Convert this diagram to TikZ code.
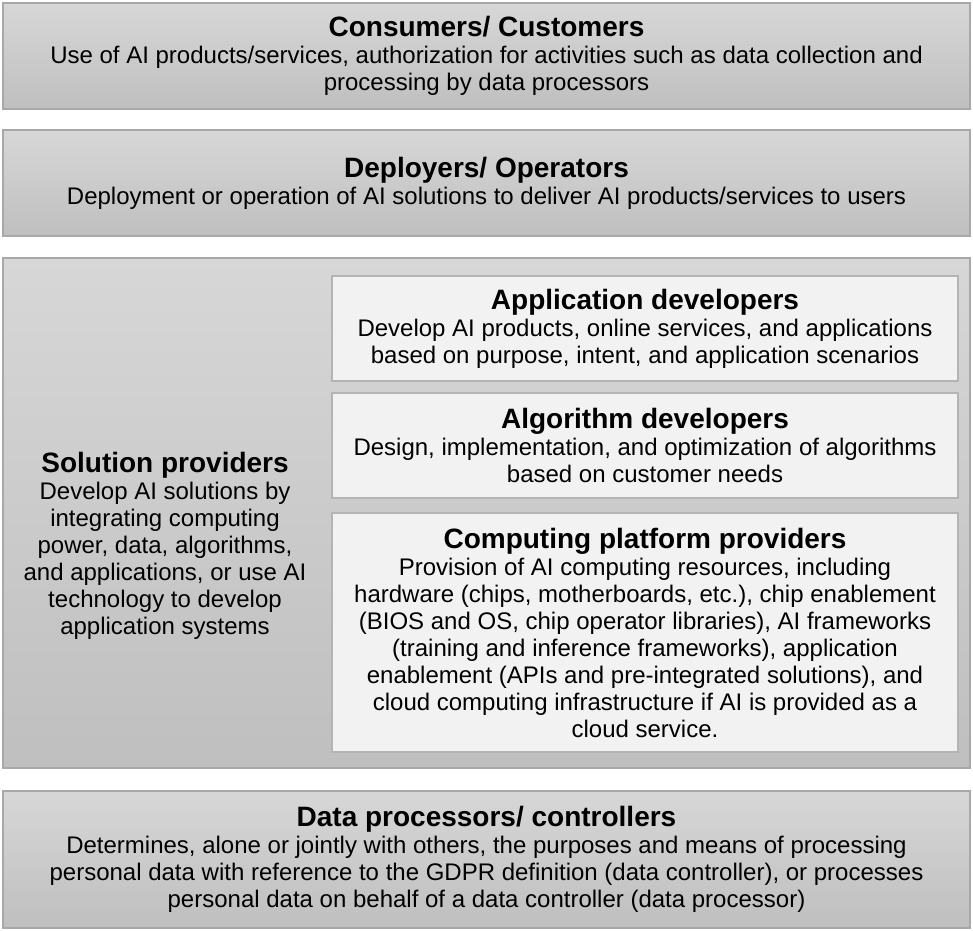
\documentclass[tikz,border=0pt]{standalone}
\usepackage{fontspec}
\setmainfont{Liberation Sans}
\usepackage{tikz}

\definecolor{boxtop}{HTML}{D7D7D7}
\definecolor{boxbottom}{HTML}{BFBFBF}
\definecolor{boxline}{HTML}{A8A8A8}
\definecolor{subfill}{HTML}{F2F2F2}
\definecolor{subline}{HTML}{B4B4B4}

\newcommand{\roletitle}[1]{{\fontsize{28}{27}\selectfont\bfseries #1}}

\begin{document}
\begin{tikzpicture}[x=1pt,y=-1pt,
    layer/.style={draw=boxline,line width=1.2pt,top color=boxtop,bottom color=boxbottom,
      minimum width=967pt,inner sep=0pt,outer sep=0pt,align=center,
      font=\fontsize{24}{27}\selectfont},
    sublayer/.style={draw=subline,line width=1.2pt,fill=subfill,
      minimum width=626pt,inner sep=0pt,outer sep=0pt,align=center,
      font=\fontsize{24}{27}\selectfont}]
  \useasboundingbox (0,0) rectangle (973,930);
  \node[layer,minimum height=106pt] (consumers) at (486.5,56) {\roletitle{Consumers/ Customers}\\
    Use of AI products/services, authorization for activities such as data collection and\\
    processing by data processors};
  \node[layer,minimum height=106pt] (deployers) at (486.5,183) {\roletitle{Deployers/ Operators}\\
    Deployment or operation of AI solutions to deliver AI products/services to users};
  \node[layer,minimum height=510pt] (solution) at (486.5,513) {};
  \node[align=center,inner sep=0pt,font=\fontsize{24}{27}\selectfont] (solutiontext) at (165,546) {\roletitle{Solution providers}\\
    Develop AI solutions by\\
    integrating computing\\
    power, data, algorithms,\\
    and applications, or use AI\\
    technology to develop\\
    application systems};
  \node[sublayer,minimum height=105pt] (appdev) at (645,328.5) {\roletitle{Application developers}\\
    Develop AI products, online services, and applications\\
    based on purpose, intent, and application scenarios};
  \node[sublayer,minimum height=105pt] (algodev) at (645,445.5) {\roletitle{Algorithm developers}\\
    Design, implementation, and optimization of algorithms\\
    based on customer needs};
  \node[sublayer,minimum height=239pt] (platform) at (645,632.5) {\roletitle{Computing platform providers}\\
    Provision of AI computing resources, including\\
    hardware (chips, motherboards, etc.), chip enablement\\
    (BIOS and OS, chip operator libraries), AI frameworks\\
    (training and inference frameworks), application\\
    enablement (APIs and pre-integrated solutions), and\\
    cloud computing infrastructure if AI is provided as a\\
    cloud service.};
  \node[layer,minimum height=137pt] (dataproc) at (486.5,859.5) {\roletitle{Data processors/ controllers}\\
    Determines, alone or jointly with others, the purposes and means of processing\\
    personal data with reference to the GDPR definition (data controller), or processes\\
    personal data on behalf of a data controller (data processor)};
\end{tikzpicture}
\end{document}
